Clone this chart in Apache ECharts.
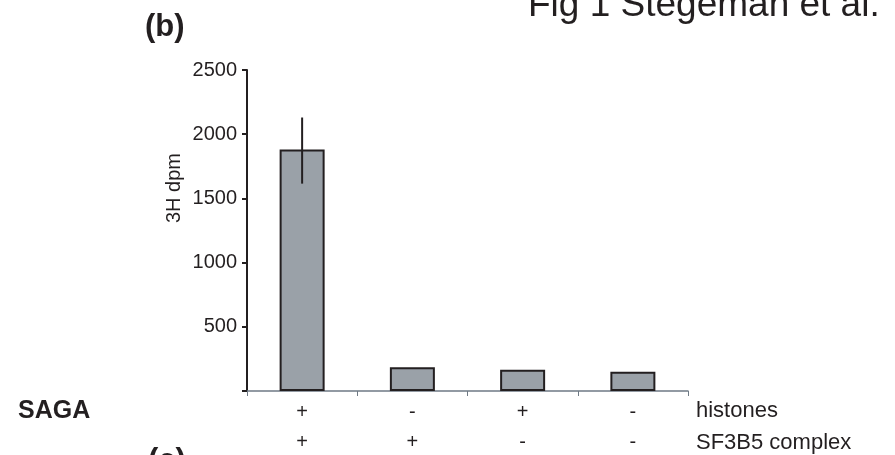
<!DOCTYPE html>
<html>
<head>
<meta charset="utf-8">
<title>Fig 1 Stegeman et al. (b)</title>
<script src="https://cdn.jsdelivr.net/npm/echarts@6/dist/echarts.min.js"></script>
<style>
  html, body { margin: 0; padding: 0; background: #fff; }
  #chart { width: 895px; height: 455px; }
</style>
</head>
<body>
<div id="chart"></div>
<script>
  // values
  const histones = ['+', '-', '+', '-']
  const sf3b5 = ['+', '+', '-', '-']
  const dpm = [1880, 185, 165, 150]
  const errLow = [1615, null, null, null]
  const errHigh = [2130, null, null, null]
  const yTicks = [0, 500, 1000, 1500, 2000, 2500]

  const ink = '#231f20'
  const font = '"Liberation Sans", Arial, Helvetica, sans-serif'

  const categories = histones.map((h, i) => h + '\n' + sf3b5[i])

  let myChart = echarts.init(document.getElementById('chart'))
  myChart.setOption({
    animation: false,
    backgroundColor: '#fff',
    grid: {
      left: 247,
      top: 70,
      width: 441,
      height: 321,
      containLabel: false,
      outerBoundsMode: 'none'
    },
    xAxis: {
      type: 'category',
      data: categories,
      axisLine: { lineStyle: { color: '#6f7a85', width: 1.5 } },
      axisTick: { show: true, length: 5, lineStyle: { color: '#6f7a85', width: 1 } },
      axisLabel: {
        color: ink,
        fontFamily: font,
        fontSize: 20,
        lineHeight: 30,
        margin: 6
      }
    },
    yAxis: {
      type: 'value',
      min: yTicks[0],
      max: yTicks[yTicks.length - 1],
      interval: 500,
      splitLine: { show: false },
      axisLine: { show: true, lineStyle: { color: ink, width: 2 } },
      axisTick: { show: true, length: 5, lineStyle: { color: ink, width: 2 } },
      axisLabel: {
        color: ink,
        fontFamily: font,
        fontSize: 20,
        margin: 10,
        formatter: v => (v === 0 ? '' : String(v))
      }
    },
    series: [
      {
        type: 'bar',
        data: dpm,
        barWidth: 45,
        itemStyle: {
          color: '#9aa1a8',
          borderColor: ink,
          borderWidth: 2
        }
      },
      {
        type: 'custom',
        data: errLow.map((lo, i) => [i, lo, errHigh[i]]).filter(d => d[1] !== null),
        renderItem (params, api) {
          const lo = api.coord([api.value(0), api.value(1)])
          const hi = api.coord([api.value(0), api.value(2)])
          return {
            type: 'line',
            shape: { x1: lo[0], y1: lo[1], x2: hi[0], y2: hi[1] },
            style: { stroke: ink, lineWidth: 2 }
          }
        },
        z: 5
      }
    ],
    graphic: [
      {
        type: 'text', left: 528, top: -13,
        style: { text: 'Fig 1 Stegeman et al.', font: '37px ' + font, fill: ink }
      },
      {
        type: 'text', x: 145, y: 27,
        style: { text: '(b)', font: 'bold 31px ' + font, fill: ink, verticalAlign: 'middle' }
      },
      {
        type: 'text', x: 174, y: 188, rotation: Math.PI / 2,
        style: { text: '3H dpm', font: '20px ' + font, fill: ink, align: 'center', verticalAlign: 'middle' }
      },
      {
        type: 'text', x: 18, y: 411,
        style: { text: 'SAGA', font: 'bold 25px ' + font, fill: ink, verticalAlign: 'middle' }
      },
      {
        type: 'text', x: 696, y: 411,
        style: { text: 'histones', font: '22px ' + font, fill: ink, verticalAlign: 'middle' }
      },
      {
        type: 'text', x: 696, y: 443,
        style: { text: 'SF3B5 complex', font: '22px ' + font, fill: ink, verticalAlign: 'middle' }
      },
      {
        type: 'text', x: 148, y: 461,
        style: { text: '(c)', font: 'bold 31px ' + font, fill: ink, verticalAlign: 'middle' }
      }
    ]
  })
</script>
</body>
</html>
